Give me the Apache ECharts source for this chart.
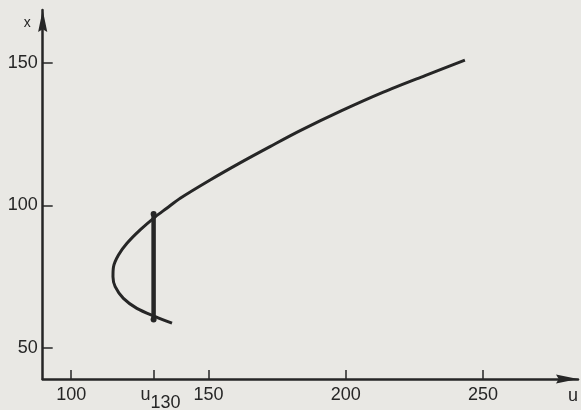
<!DOCTYPE html>
<html><head><meta charset="utf-8">
<script src="https://cdn.jsdelivr.net/npm/echarts@6/dist/echarts.min.js"></script>
<style>html,body{margin:0;padding:0;background:#e9e8e4}#c{width:581px;height:410px}</style>
</head><body><div id="c"></div>
<script>
// curve x(u), ordered along the curve (lower end -> nose -> upper end)
const curveU = [136.7, 130.6, 123.9, 119.0, 116.0, 115.2, 115.4, 117.2, 120.3, 125.1, 130.6, 134.8, 139.7, 150.6, 161.5, 172.4, 183.4, 198.5, 213.7, 228.9, 243.4];
const curveX = [58.7, 61.0, 63.9, 67.4, 71.5, 75.0, 78.5, 82.6, 86.7, 91.4, 96.0, 99.0, 102.5, 108.9, 114.9, 120.6, 126.2, 133.2, 139.7, 145.5, 150.9];
// vertical segment at u130
const segU = [130, 130];
const segX = [97.0, 60.0];
// ticks
const xTicks = [100, 130, 150, 200, 250];
const xTickLabels = ['100', 'u130', '150', '200', '250'];
const yTicks = [50, 100, 150];
const yTickLabels = ['50', '100', '150'];

const ink = '#262626';
const font = 'Liberation Sans';
const arrow = 'path://M5,0L10,24L5,21L0,24Z';
const chart = echarts.init(document.getElementById('c'));
chart.setOption({
  backgroundColor: '#e9e8e4',
  animation: false,
  grid: {left: 42.7, right: 3, top: 10, bottom: 31, containLabel: false, outerBoundsMode: 'none'},
  xAxis: {
    type: 'value', min: 89.6, max: 284.6,
    name: 'u', nameLocation: 'end', nameGap: 0,
    nameTextStyle: {fontFamily: font, fontSize: 18, color: ink, align: 'right', verticalAlign: 'top', padding: [8, 0, 0, 0]},
    splitLine: {show: false},
    axisLine: {lineStyle: {color: ink, width: 2.5}, symbol: ['none', arrow], symbolSize: [10, 22], symbolOffset: [0, -11]},
    axisTick: {inside: true, length: 9, lineStyle: {color: ink, width: 1.5}, customValues: xTicks},
    axisLabel: {
      customValues: xTicks, margin: 7, color: ink, fontFamily: font, fontSize: 18,
      formatter: function (v) {
        const t = xTickLabels[xTicks.indexOf(v)];
        if (t === 'u130') return '{u|u}{s|130}';
        return t;
      },
      rich: {
        u: {fontFamily: font, fontSize: 18, color: ink, verticalAlign: 'top', padding: [0, 0, 0, 14]},
        s: {fontFamily: font, fontSize: 18, color: ink, verticalAlign: 'top', padding: [8, 0, 0, 0]}
      }
    }
  },
  yAxis: {
    type: 'value', min: 39.13, max: 168.5,
    name: 'x', nameLocation: 'end', nameGap: -13,
    nameTextStyle: {fontFamily: font, fontSize: 14, color: ink, align: 'right', verticalAlign: 'middle', padding: [0, 12, 0, 0]},
    splitLine: {show: false},
    axisLine: {lineStyle: {color: ink, width: 2.5}, symbol: ['none', arrow], symbolSize: [10, 22], symbolOffset: [0, -11]},
    axisTick: {inside: true, length: 10, lineStyle: {color: ink, width: 1.5}, customValues: yTicks},
    axisLabel: {
      customValues: yTicks, margin: 5, color: ink, fontFamily: font, fontSize: 18,
      formatter: function (v) { return yTickLabels[yTicks.indexOf(v)]; }
    }
  },
  series: [
    {
      type: 'line', smooth: 0.3, showSymbol: false,
      data: curveU.map((u, i) => [u, curveX[i]]),
      lineStyle: {color: ink, width: 3}
    },
    {
      type: 'line', symbol: 'circle', symbolSize: 6,
      data: segU.map((u, i) => [u, segX[i]]),
      lineStyle: {color: ink, width: 4.5},
      itemStyle: {color: ink}
    }
  ]
});
</script></body></html>
